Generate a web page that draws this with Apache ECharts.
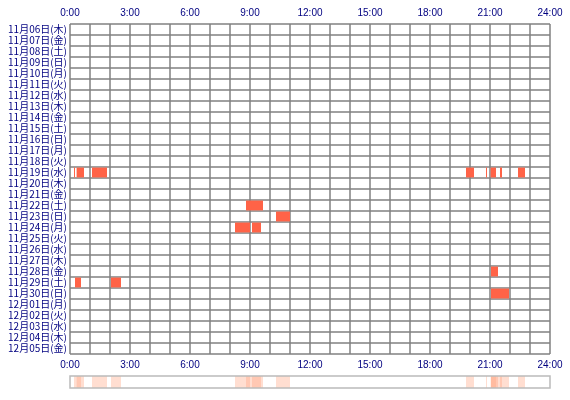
<!DOCTYPE html>
<html><head><meta charset="utf-8">
<script src="https://cdn.jsdelivr.net/npm/echarts@6/dist/echarts.min.js"></script>
<style>body{margin:0;background:#fff}#c{width:570px;height:400px}</style>
</head><body><div id="c"></div>
<script>
var days = ['11月06日(木)','11月07日(金)','11月08日(土)','11月09日(日)','11月10日(月)','11月11日(火)','11月12日(水)','11月13日(木)','11月14日(金)','11月15日(土)','11月16日(日)','11月17日(月)','11月18日(火)','11月19日(水)','11月20日(木)','11月21日(金)','11月22日(土)','11月23日(日)','11月24日(月)','11月25日(火)','11月26日(水)','11月27日(木)','11月28日(金)','11月29日(土)','11月30日(日)','12月01日(月)','12月02日(火)','12月03日(水)','12月04日(木)','12月05日(金)'];
// [day index, start hour, end hour]
var sessions = [
  [13, 0.2, 0.25], [13, 0.33, 0.7], [13, 1.1, 1.85],
  [13, 19.8, 20.2], [13, 20.8, 20.85], [13, 21.03, 21.3], [13, 21.5, 21.6], [13, 22.4, 22.75],
  [16, 8.8, 9.65], [17, 10.3, 11.0], [18, 8.25, 9.0], [18, 9.1, 9.55],
  [22, 21.05, 21.4], [23, 0.25, 0.55], [23, 2.05, 2.55], [24, 21.05, 21.95]
];
var hourTicks = [0, 3, 6, 9, 12, 15, 18, 21, 24];

function rect(params, api, y0, y1) {
  var a = api.coord([api.value(1), y0]);
  var b = api.coord([api.value(2), y1]);
  return {type: 'rect', shape: {x: a[0], y: a[1], width: Math.max(1, b[0] - a[0]), height: b[1] - a[1]}};
}

var chart = echarts.init(document.getElementById('c'));
var xLab = {color: '#000080', fontSize: 10, fontFamily: 'Noto Sans CJK JP', formatter: function (v) { return v + ':00'; }};
var gridLine = {show: true, lineStyle: {color: '#808080', width: 1.5}};
chart.setOption({
  animation: false,
  grid: [
    {left: 70, top: 24, width: 480, height: 330},
    {left: 70, top: 376, width: 480, height: 12}
  ],
  xAxis: [
    {gridIndex: 0, type: 'value', min: 0, max: 24, interval: 1, position: 'top',
     axisLine: {show: false}, axisTick: {show: false}, splitLine: gridLine,
     axisLabel: {color: '#000080', fontSize: 10, margin: 6, showMaxLabel: true,
       formatter: function (v) { return v % 3 === 0 ? v + ':00' : ''; }}},
    {gridIndex: 0, type: 'value', min: 0, max: 24, interval: 3, position: 'bottom',
     axisLine: {show: false}, axisTick: {show: false}, splitLine: {show: false},
     axisLabel: {color: '#000080', fontSize: 10, margin: 6, showMaxLabel: true,
       formatter: function (v) { return v + ':00'; }}},
    {gridIndex: 1, type: 'value', min: 0, max: 24, show: false}
  ],
  yAxis: [
    {gridIndex: 0, type: 'value', min: 0, max: 30, interval: 1, inverse: true,
     axisLine: {show: false}, axisTick: {show: false}, splitLine: gridLine,
     axisLabel: {color: '#000080', fontSize: 10, fontFamily: 'Noto Sans CJK JP', margin: 3,
       formatter: function (v) { return v < 30 ? days[v] : ''; }, verticalAlign: 'top', lineHeight: 11}},
    {gridIndex: 1, type: 'value', min: 0, max: 1, show: false}
  ],
  series: [
    {type: 'custom', xAxisIndex: 0, yAxisIndex: 0, data: sessions,
     renderItem: function (params, api) {
       var r = rect(params, api, api.value(0) + 0.05, api.value(0) + 0.95);
       r.style = {fill: '#ff6347'}; return r;
     }},
    {type: 'custom', xAxisIndex: 2, yAxisIndex: 1, data: sessions,
     renderItem: function (params, api) {
       var r = rect(params, api, 0, 1);
       r.style = {fill: 'rgba(255,160,122,0.35)'}; return r;
     }},
    {type: 'custom', xAxisIndex: 2, yAxisIndex: 1, data: [[0, 0, 24]], silent: true,
     renderItem: function (params, api) {
       var r = rect(params, api, 0, 1);
       r.style = {fill: 'none', stroke: '#bbbbbb', lineWidth: 1.5}; return r;
     }}
  ]
});
</script></body></html>
